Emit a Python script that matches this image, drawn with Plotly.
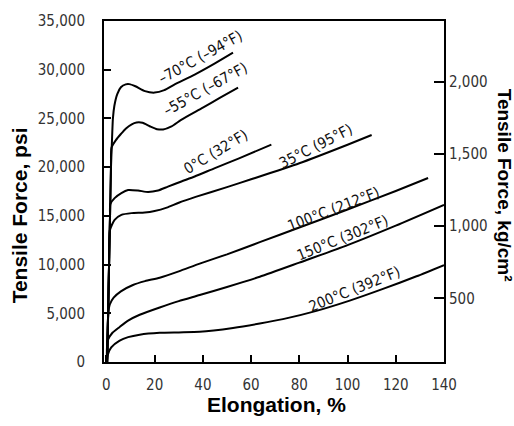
import plotly.graph_objects as go

# ---- data (elongation %, tensile force psi) ----
m70_x = [0.3, 0.7, 1.1, 1.5, 1.9, 2.2, 2.7, 3.3, 4.5, 6, 8, 9.5, 12, 16, 20, 24, 28, 36.6, 45, 52.5]
m70_y = [0, 5000, 10000, 15000, 20000, 22000, 25000, 26300, 27500, 28200, 28500, 28520, 28300, 27800, 27650, 27900, 28450, 29500, 30650, 31750]

m55_x = [0.3, 0.7, 1.1, 1.5, 1.9, 2.1, 4, 6, 8, 10.5, 12.5, 15, 18, 21, 23.5, 27, 31, 40, 47, 54.6]
m55_y = [0, 5000, 10000, 15000, 20000, 22000, 22800, 23400, 23950, 24400, 24580, 24550, 24200, 23900, 23870, 24190, 24850, 26100, 27100, 28150]

c0_x = [0.3, 0.7, 1.1, 1.5, 1.6, 3.4, 6.2, 9, 13.1, 17.3, 21.4, 25.5, 31.1, 36.6, 45, 55, 68.4]
c0_y = [0, 5000, 10000, 15000, 16200, 16820, 17340, 17650, 17600, 17450, 17600, 18000, 18530, 19040, 19900, 20900, 22310]

c35_x = [0.3, 0.7, 1.1, 1.4, 3.4, 6.2, 10.4, 15.9, 20, 25, 30, 37, 50, 60, 80, 100, 110]
c35_y = [0, 5000, 10000, 13500, 14590, 15100, 15280, 15340, 15500, 15850, 16350, 16950, 17950, 18750, 20400, 22300, 23300]

c100_x = [0.3, 0.8, 1.4, 3, 6, 11, 16, 22.1, 30, 38.7, 50, 63.6, 80, 100, 120, 133.4]
c100_y = [0, 5000, 5900, 6600, 7250, 7900, 8300, 8650, 9300, 10100, 11050, 12300, 13800, 15650, 17550, 18880]

c150_x = [0.2, 0.5, 2.5, 5.5, 9, 13.8, 22.1, 30, 38.7, 50, 63.6, 80, 100, 120, 140]
c150_y = [0, 2200, 3000, 3600, 4250, 4850, 5600, 6250, 6870, 7700, 8750, 10200, 12000, 14000, 16130]

c200_x = [0.2, 0.5, 2, 5.5, 9, 13.8, 22.1, 30, 38.7, 52.5, 63.6, 73.2, 87.1, 100.9, 114.7, 128.6, 140]
c200_y = [0, 700, 1500, 2200, 2550, 2800, 2990, 3040, 3100, 3500, 3950, 4400, 5250, 6300, 7500, 8800, 9950]

series = [
    (m70_x, m70_y), (m55_x, m55_y), (c0_x, c0_y), (c35_x, c35_y),
    (c100_x, c100_y), (c150_x, c150_y), (c200_x, c200_y),
]

labels = ["–70°C (–94°F)", "–55°C (–67°F)", "0°C (32°F)", "35°C (95°F)",
          "100°C (212°F)", "150°C (302°F)", "200°C (392°F)"]
label_x = [39.1, 41.2, 45.3, 87.1, 94.3, 97.8, 103.0]
label_y = [31260, 27970, 21590, 22130, 15720, 12730, 7480]
label_angle = [-29, -29, -31, -27, -21, -22, -22]

x_ticks = [0, 20, 40, 60, 80, 100, 120, 140]
y_ticks = [0, 5000, 10000, 15000, 20000, 25000, 30000, 35000]
y2_ticks = [500, 1000, 1500, 2000]

COND = "DejaVu Sans Condensed, Liberation Sans Narrow, Roboto, Liberation Sans, sans-serif"
TICKFONT = dict(family=COND, size=15, color="#333333")
LABELFONT = dict(family=COND, size=15, color="#111111")
TITLEFONT = dict(family="Liberation Sans, Arial, sans-serif", size=21, color="black")

fig = go.Figure()
for xs, ys in series:
    fig.add_trace(go.Scatter(x=xs, y=ys, mode="lines",
                             line=dict(color="black", width=2, shape="spline", smoothing=0.6),
                             showlegend=False, hoverinfo="skip"))
fig.add_trace(go.Scatter(x=[None], y=[None], yaxis="y2", showlegend=False))

for t, x, y, a in zip(labels, label_x, label_y, label_angle):
    fig.add_annotation(x=x, y=y, text=t, showarrow=False, textangle=a,
                       font=LABELFONT, xref="x", yref="y")

# axis titles
fig.add_annotation(text="<b>Tensile Force, psi</b>", xref="paper", yref="paper",
                   x=0, y=0.43, xshift=-85, xanchor="center", yanchor="middle",
                   textangle=-90, showarrow=False, font=TITLEFONT)
fig.add_annotation(text="<b>Elongation, %</b>", xref="paper", yref="paper",
                   x=0.506, y=0, yshift=-42, xanchor="center", yanchor="middle",
                   showarrow=False, font=TITLEFONT)
fig.add_annotation(text="<b>Tensile Force, kg/cm²</b>", xref="paper", yref="paper",
                   x=1.0, y=0.52, xshift=60, xanchor="center", yanchor="middle",
                   textangle=90, showarrow=False,
                   font=dict(family="Liberation Sans, Arial, sans-serif", size=19, color="black"))

common = dict(showline=True, linecolor="black", linewidth=2, ticks="inside", tickwidth=2,
              tickcolor="black", showgrid=False, zeroline=False, tickfont=TICKFONT,
              automargin=False)

fig.update_layout(
    width=514, height=426,
    margin=dict(l=104, r=70, t=21, b=64, autoexpand=False),
    plot_bgcolor="white", paper_bgcolor="white",
    xaxis=dict(range=[-1, 140], tickvals=x_ticks, ticktext=[str(v) for v in x_ticks],
               mirror=True, ticklen=7, ticklabelstandoff=8, **common),
    yaxis=dict(range=[0, 35000], tickvals=y_ticks, ticktext=[f"{v:,}" for v in y_ticks],
               ticklen=7, ticklabelstandoff=14, **common),
    yaxis2=dict(range=[59, 2419], overlaying="y", side="right", tickvals=y2_ticks,
                ticktext=[f"{v:,}" for v in y2_ticks], ticklen=10, ticklabelstandoff=0,
                **common),
)

fig.write_html("out.html", config={"displayModeBar": False},
               post_script="document.body.style.margin='0px';document.body.style.overflow='hidden';")
